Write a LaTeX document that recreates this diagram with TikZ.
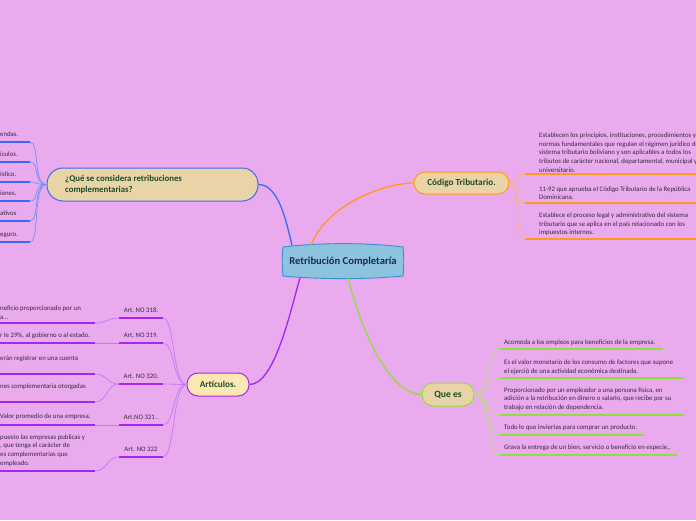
\documentclass[tikz,border=0pt]{standalone}
\usepackage{fontspec}
\setmainfont{Carlito}
\definecolor{bg}{HTML}{E9AAEE}
\definecolor{cblue}{HTML}{3D6AF2}
\definecolor{cbluel}{HTML}{7390F5}
\definecolor{corange}{HTML}{FF9A1E}
\definecolor{corangel}{HTML}{FFB468}
\definecolor{cpurple}{HTML}{A326F2}
\definecolor{cpurplel}{HTML}{C27AF2}
\definecolor{cgreen}{HTML}{8CE03A}
\definecolor{cgreenl}{HTML}{AEE870}
\definecolor{tan}{HTML}{E8D4A6}
\definecolor{yfill}{HTML}{FCE8B2}
\definecolor{cfill}{HTML}{8DC3DF}
\definecolor{cborder}{HTML}{3B8ED6}
\definecolor{ntext}{HTML}{1D4A2C}
\definecolor{ltext}{HTML}{3A2840}
\definecolor{ctext}{HTML}{1B2A4A}
\begin{document}
\begin{tikzpicture}[x=1pt,y=-1pt,
  mainnode/.style={rounded corners=11, line width=1pt, inner sep=0pt, text=ntext, font=\fontsize{9.2}{11.5}\selectfont\bfseries},
  leaf/.style={font=\fontsize{6.8}{8.7}\selectfont, text=ltext, inner sep=0pt, anchor=south west, align=left},
  artlab/.style={font=\fontsize{6.8}{8.7}\selectfont, text=ltext, inner sep=0pt, anchor=south},
  uline/.style={line width=1.6pt},
  conn/.style={line width=0.7pt},
  trunk/.style={line width=1.3pt}
]
\fill[bg] (0,0) rectangle (696,520);
\useasboundingbox (0,0) rectangle (696,520);
\clip (0,0) rectangle (696,520);

% ---------- central node shape ----------
\path[fill=cfill, draw=cborder, line width=0.9pt]
  (283,247) .. controls (320,242.5) and (366,242.5) .. (403,247)
  .. controls (404,256) and (404,267) .. (403,276)
  .. controls (366,279.5) and (320,279.5) .. (283,276)
  .. controls (282,267) and (282,256) .. (283,247) -- cycle;
\node[font=\fontsize{10.6}{12}\selectfont\bfseries, text=ctext, inner sep=0pt, minimum width=120, minimum height=32] (C) at (343,261.5) {Retribución Completaría};

% ---------- main nodes ----------
\node[mainnode, fill=tan, draw=cblue, rounded corners=16, minimum width=211, minimum height=33] (Q) at (152.5,184.5) {};
\node[text=ntext, font=\fontsize{8.8}{11}\selectfont\bfseries, inner sep=0pt, anchor=west, align=left] (Qt) at (65,184.5) {¿Qué se considera retribuciones\\complementarias?};
\node[mainnode, fill=yfill, draw=cpurple, minimum width=62, minimum height=23] (A) at (218,384.5) {Artículos.};
\node[mainnode, fill=tan, draw=corange, minimum width=95, minimum height=22] (T) at (461.5,183) {Código Tributario.};
\node[mainnode, fill=tan, draw=cgreen, minimum width=52, minimum height=23, font=\fontsize{9.6}{11}\selectfont\bfseries] (E) at (448,394.5) {Que es};

% ---------- trunk connectors ----------
\draw[trunk, cblue] (Q.east) .. controls +(20,0) and +(-6,-25) .. ([xshift=-51]C.north);
\draw[trunk, corange] ([xshift=-32]C.north) .. controls +(15,-40) and +(-30,0) .. (T.west);
\draw[trunk, cpurple] ([xshift=-43]C.south) .. controls +(-10,35) and +(25,0) .. (A.east);
\draw[trunk, cgreen] ([xshift=5]C.south) .. controls +(15,60) and +(-30,0) .. (E.west);

% ---------- blue leaves ----------
\foreach \i/\y/\t in {1/142/endas., 2/162/ículos., 3/182/ístico., 4/201/ienes., 5/221/ativos, 6/242/eguro.}{
  \coordinate (bs\i) at (0,\y);
  \coordinate (be\i) at (30,\y);
  \draw[uline, cblue] (bs\i) -- (be\i);
  \draw[conn, cbluel] (Q.west) .. controls +(-14,0) and +(10,0) .. (be\i);
  \node[leaf, anchor=base west] (bt\i) at (0,\y-5.5) {\t};
}

% ---------- purple: art labels ----------
\foreach \i/\y/\t in {1/318/{Art, NO 318.}, 2/343/{Art, NO 319.}, 3/384/{Art. NO 320.}, 4/425/{Art.NO 321 .}, 5/457/{Art. NO 322}}{
  \coordinate (as\i) at (119,\y);
  \coordinate (ae\i) at (163,\y);
  \draw[uline, cpurple] (as\i) -- (ae\i);
  \draw[conn, cpurplel] (A.west) .. controls +(-14,0) and +(12,0) .. (ae\i);
  \node[artlab, anchor=base] (at\i) at (141,\y-5.5) {\t};
}

% purple leaves
\foreach \i/\y/\p in {1/323/as1, 2/343/as2, 3/374/as3, 4/402/as3, 5/425/as4, 6/471/as5}{
  \coordinate (ps\i) at (0,\y);
  \coordinate (pe\i) at (95,\y);
  \draw[uline, cpurple] (ps\i) -- (pe\i);
  \draw[conn, cpurplel] (\p) .. controls +(-12,0) and +(12,0) .. (pe\i);
}
\node[leaf] (pt1) at (0,319.5) {neficio proporcionado por un\\a...};
\node[leaf, anchor=base west] (pt2) at (0,337.5) {r le 29\%, al gobierno o al estado.};
\node[leaf, anchor=base west] (pt3) at (0,360) {erán registrar en una cuenta};
\node[leaf, anchor=base west] (pt4) at (0,388.5) {nes complementaria otorgadas};
\node[leaf, anchor=base west] (pt5) at (0,418.5) {Valor promedio de una empresa.};
\node[leaf] (pt6) at (0,466.5) {puesto las empresas publicas y\\, que tenga el carácter de\\es complementarias que\\empleado.};

% ---------- orange leaves ----------
\foreach \i/\y in {1/174, 2/203, 3/239}{
  \coordinate (os\i) at (525,\y);
  \coordinate (oe\i) at (700,\y);
  \draw[uline, corange] (os\i) -- (oe\i);
  \draw[conn, corangel] (T.east) .. controls +(12,0) and +(-12,0) .. (os\i);
}
\node[leaf] (ot1) at (539,172.5) {Establecen los principios, instituciones, procedimientos y\\normas fundamentales que regulan el régimen jurídico del\\sistema tributario boliviano y son aplicables a todos los\\tributos de carácter nacional, departamental, municipal y\\universitario.};
\node[leaf] (ot2) at (539,200) {11-92 que aprueba el Código Tributario de la República\\Dominicana.};
\node[leaf] (ot3) at (539,236) {Establece el proceso legal y administrativo del sistema\\tributario que se aplica en el país relacionado con los\\impuestos internos.};

% ---------- green leaves ----------
\foreach \i/\y/\x in {1/349/663, 2/378/684, 3/415/684, 4/435/644, 5/455/677}{
  \coordinate (gs\i) at (500,\y);
  \coordinate (ge\i) at (\x,\y);
  \draw[uline, cgreen] (gs\i) -- (ge\i);
  \draw[conn, cgreenl] (E.east) .. controls +(14,0) and +(-12,0) .. (gs\i);
}
\node[leaf] (gt1) at (504,346) {Acomoda a los empleos para beneficios de la empresa.};
\node[leaf] (gt2) at (504,374.5) {Es el valor monetario de los consumo de factores que supone\\el ejerció de una actividad económica destinada.};
\node[leaf] (gt3) at (504,411) {Proporcionado por un empleador a una persona física, en\\adición a la retribución en dinero o salario, que recibe por su\\trabajo en relación de dependencia.};
\node[leaf] (gt4) at (504,431) {Todo lo que inviertas para comprar un producto.};
\node[leaf] (gt5) at (504,451) {Grava la entrega de un bien, servicio o beneficio en especie,.};
\end{tikzpicture}
\end{document}
